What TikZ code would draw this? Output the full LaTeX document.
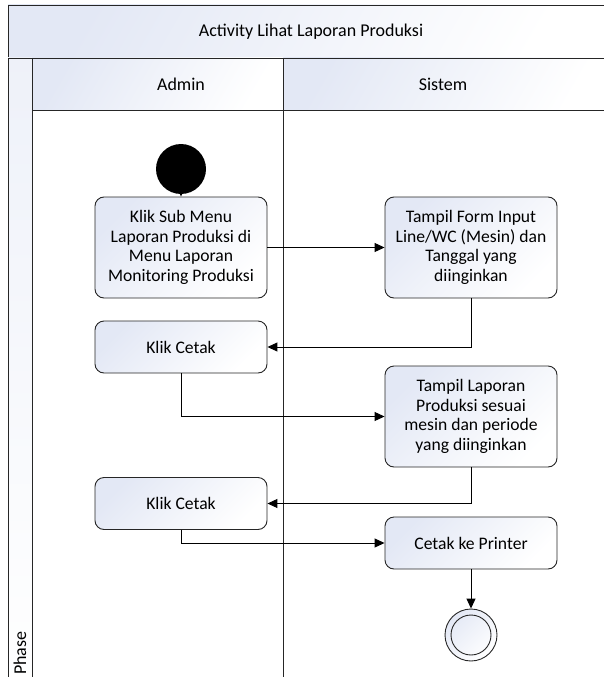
\documentclass[tikz,border=0pt]{standalone}
\usepackage{fontspec}
\setmainfont{Carlito}
\usetikzlibrary{arrows.meta}
\definecolor{tint}{HTML}{E3E8F5}
\tikzset{
  txt/.style={font=\fontsize{17.6}{19.6}\selectfont},
  head/.style={font=\fontsize{18}{22}\selectfont},
  act/.style={txt, draw=black!85, line width=0.9pt, rounded corners=9pt,
    minimum width=172pt, align=center, inner sep=2pt,
    top color=tint, bottom color=white, shading angle=45},
  band/.style={draw=black!85, line width=0.9pt,
    top color=tint, bottom color=white, shading angle=60},
  flow/.style={line width=1pt, -{Triangle[length=10pt,width=9pt]}},
}
\begin{document}
\begin{tikzpicture}[x=1pt, y=-1pt]
  \useasboundingbox (0,0) rectangle (603,677);
  % swimlane frame
  \path[band] (8,5) rectangle (612,58);
  \node[head] (title) at (311,31.5) {Activity Lihat Laporan Produksi};
  \path[band, top color=tint!60] (8,58) rectangle (32,690);
  \path[band] (32,58) rectangle (283,110);
  \path[band] (283,58) rectangle (612,110);
  \node[head] (admin) at (181,84) {Admin};
  \node[head] (sistem) at (443,84) {Sistem};
  \draw[draw=black!85, line width=0.9pt] (32,110) -- (32,690)
     (283,110) -- (283,690);
  \node[head, rotate=90, anchor=west, inner sep=1pt] (phase) at (20,676) {Phase};

  % activities
  \node[circle, fill=black, minimum size=50pt, inner sep=0pt] (start) at (181,169) {};
  \node[act, minimum height=101pt] (b1) at (181,247.5)
     {Klik Sub Menu\\Laporan Produksi di\\Menu Laporan\\Monitoring Produksi};
  \node[act, minimum height=101pt] (b2) at (471,247.5)
     {Tampil Form Input\\Line/WC (Mesin) dan\\Tanggal yang\\diinginkan};
  \node[act, minimum height=52pt] (b3) at (181,347) {Klik Cetak};
  \node[act, minimum height=101pt] (b4) at (471,416.5)
     {Tampil Laporan\\Produksi sesuai\\mesin dan periode\\yang diinginkan};
  \node[act, minimum height=52pt] (b5) at (181,503.5) {Klik Cetak};
  \node[act, minimum height=52pt] (b6) at (471,543) {Cetak ke Printer};
  \node[circle, draw=black!85, line width=0.9pt, minimum size=52pt, inner sep=0pt,
        top color=tint, bottom color=white, shading angle=45] (end) at (471,635) {};
  \draw[black!85, line width=0.9pt] (end.center) circle (20pt);

  % control flow
  \draw[flow] (start) -- (b1);
  \draw[flow] (b1) -- (b2);
  \draw[flow] (b2.south) |- (b3.east);
  \draw[flow] (b3.south) |- (b4.west);
  \draw[flow] (b4.south) |- (b5.east);
  \draw[flow] (b5.south) |- (b6.west);
  \draw[flow] (b6) -- (end);
\end{tikzpicture}
\end{document}
